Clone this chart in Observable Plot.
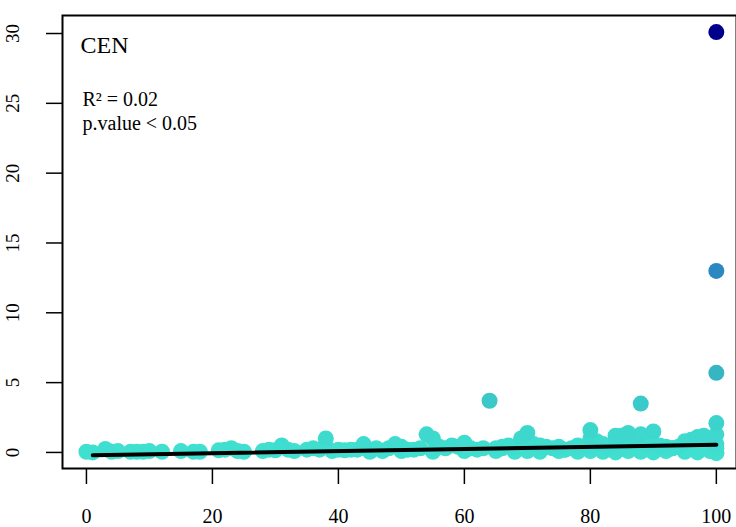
<!DOCTYPE html>
<html>
<head>
<meta charset="utf-8">
<script src="https://cdn.jsdelivr.net/npm/d3@7"></script>
<script src="https://cdn.jsdelivr.net/npm/@observablehq/plot@0.6"></script>
<style>body{margin:0;background:#fff}</style>
</head>
<body>
<div id="chart"></div>
<script>
// x position and value of each point
const xs = [0,1,3,4,5,7,8,9,10,12,15,17,18,21,22,23,24,25,28,29,30,31,32,33,35,36,37,38,39,40,41,42,43,44,45,46,47,48,49,50,51,52,53,54,55,56,57,58,59,60,61,62,63,64,65,66,67,68,69,70,71,72,73,74,75,76,77,78,79,80,80,81,82,83,84,85,86,87,88,88,89,90,91,92,93,94,95,96,97,98,99,100,100,100,100,100,100,100,
  45,50,55,60,65,68,70,72,75,78,80,82,84,86,88,90,92,95,97,99,100,100,70,80,85,90,60,66,76,83,93];
const ys = [0.05,0,0.25,0.05,0.1,0.05,0.05,0.05,0.1,0.05,0.1,0.05,0.05,0.15,0.2,0.3,0.1,0.05,0.1,0.2,0.15,0.5,0.2,0.1,0.2,0.3,0.2,1.0,0.1,0.2,0.15,0.2,0.2,0.6,0.2,0.3,0.1,0.3,0.6,0.4,0.2,0.2,0.3,1.3,1.0,0.4,0.3,0.5,0.4,0.7,0.3,0.2,0.3,3.7,0.3,0.4,0.5,0.4,1.0,1.4,0.6,0.5,0.4,0.3,0.4,0.2,0.3,0.5,0.4,1.0,1.6,0.8,0.6,0.5,1.2,1.2,1.4,0.9,3.5,1.3,0.6,1.5,0.5,0.4,0.3,0.4,0.8,0.9,1.1,1.2,0.9,30.1,13.0,5.7,2.1,1.3,0.6,0,
  0.05,0.1,0.05,0.1,0.1,0.05,0.1,0.05,0.1,0.05,0.1,0.05,0,0.1,0.05,0,0.1,0.05,0,0.1,-0.05,0.3,0.6,0.4,0.3,0.5,0.2,0.3,0.2,0.3,0.3];
const fitX = [1, 100];
const fitY = [-0.2, 0.55];
const xTicks = [0, 20, 40, 60, 80, 100];
const yTicks = [0, 5, 10, 15, 20, 25, 30];

const pts = xs.map((x, i) => ({x, y: ys[i]})).sort((a, b) => a.y - b.y);
const fit = fitX.map((x, i) => ({x, y: fitY[i]}));
const col = d3.scaleLinear().domain([0, 3.5, 5.7, 13, 30])
  .range(["#40E0D0", "#3acaca", "#36b6c2", "#2b88c0", "#00008b"]);

const chart = Plot.plot({
  width: 736, height: 527,
  marginLeft: 62, marginTop: 15, marginRight: 0, marginBottom: 59,
  style: {fontFamily: "Liberation Serif", fontSize: "20px", color: "#000"},
  x: {domain: [-3.8, 103.2], ticks: xTicks},
  y: {domain: [-1.15, 31.29], ticks: yTicks},
  marks: [
    Plot.axisX({ticks: xTicks, tickSize: 16, tickPadding: 24, fontSize: 20, label: null, strokeWidth: 1.5}),
    Plot.axisY({ticks: yTicks, tickSize: 16, tickPadding: 28, tickRotate: -90, fontSize: 19, label: null, strokeWidth: 1.5}),
    Plot.dot(pts, {x: "x", y: "y", r: 8, fill: d => col(d.y), stroke: "none"}),
    Plot.line(fit, {x: "x", y: "y", stroke: "black", strokeWidth: 4}),
    Plot.text(["CEN"], {frameAnchor: "top-left", dx: 18, dy: 20, fontSize: 24, textAnchor: "start"}),
    Plot.text(["R² = 0.02"], {frameAnchor: "top-left", dx: 20, dy: 76, fontSize: 20, textAnchor: "start"}),
    Plot.text(["p.value < 0.05"], {frameAnchor: "top-left", dx: 20, dy: 100, fontSize: 20, textAnchor: "start"}),
    Plot.frame({stroke: "black", strokeWidth: 2})
  ]
});
document.getElementById("chart").append(chart);
</script>
</body>
</html>
